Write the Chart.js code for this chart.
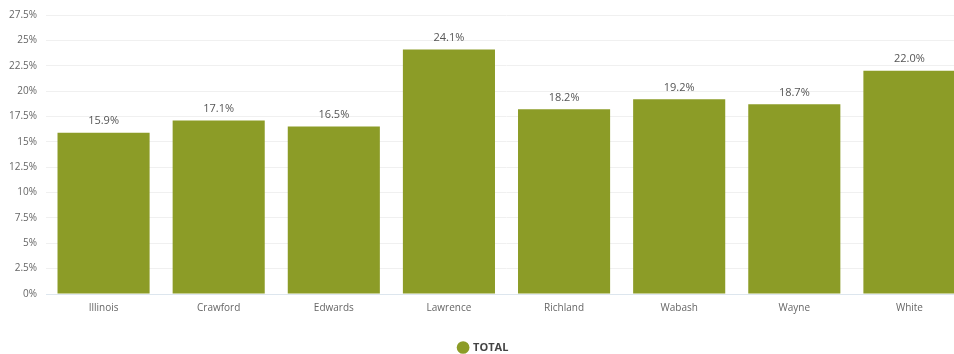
<!DOCTYPE html>
<html>
<head>
<meta charset="utf-8">
<script src="https://cdn.jsdelivr.net/npm/chart.js@4/dist/chart.umd.min.js"></script>
<style>
  html, body { margin: 0; padding: 0; background: #fff; overflow: hidden; }
  #wrap { width: 967px; height: 363px; }
</style>
</head>
<body>
<div id="wrap"><canvas id="chart"></canvas></div>
<script>
// カテゴリ（郡）
const counties = ['Illinois', 'Crawford', 'Edwards', 'Lawrence', 'Richland', 'Wabash', 'Wayne', 'White'];
// TOTAL の値（%）
const totalValues = [15.9, 17.1, 16.5, 24.1, 18.2, 19.2, 18.7, 22.0];
const seriesName = 'TOTAL';

// 棒の上に値を描くプラグイン
const valueLabels = {
    id: 'valueLabels',
    afterDatasetsDraw(chart) {
        const ctx = chart.ctx;
        const meta = chart.getDatasetMeta(0);
        ctx.save();
        ctx.font = '11px "Open Sans", sans-serif';
        ctx.fillStyle = '#555';
        ctx.textAlign = 'center';
        ctx.textBaseline = 'bottom';
        meta.data.forEach((bar, i) => {
            ctx.fillText(totalValues[i].toFixed(1) + '%', bar.x, bar.y - 6);
        });
        ctx.restore();
    }
};

const ctx = document.getElementById('chart').getContext('2d');
new Chart(ctx, {
    type: 'bar',
    data: {
        labels: counties,
        datasets: [{
            label: seriesName,
            data: totalValues,
            backgroundColor: '#8c9c27',
            categoryPercentage: 0.8,
            barPercentage: 1.0
        }]
    },
    options: {
        responsive: true,
        maintainAspectRatio: false,
        animation: false,
        layout: { padding: { top: 10, right: 0, left: 0, bottom: 0 } },
        scales: {
            x: {
                grid: { display: false },
                border: { display: true, color: '#dde6ee' },
                ticks: { color: '#666', font: { size: 10, family: '"Open Sans", sans-serif' }, padding: 0 },
                afterFit: s => { s.height = 45; }
            },
            y: {
                min: 0,
                max: 27.5,
                grid: { color: '#f0f0f0', drawTicks: false },
                border: { display: false },
                ticks: {
                    stepSize: 2.5,
                    color: '#666',
                    padding: 9,
                    font: { size: 10, family: '"Open Sans", sans-serif' },
                    callback: v => (Math.round(v * 10) / 10) + '%'
                },
                afterFit: s => { s.width = 46; }
            }
        },
        plugins: {
            legend: {
                position: 'bottom',
                labels: {
                    usePointStyle: true,
                    pointStyle: 'circle',
                    boxWidth: 9,
                    boxHeight: 9,
                    color: '#444',
                    padding: 3,
                    font: { size: 11, weight: 'bold', family: '"Open Sans", sans-serif' }
                }
            },
            tooltip: { enabled: false }
        }
    },
    plugins: [valueLabels]
});
</script>
</body>
</html>
